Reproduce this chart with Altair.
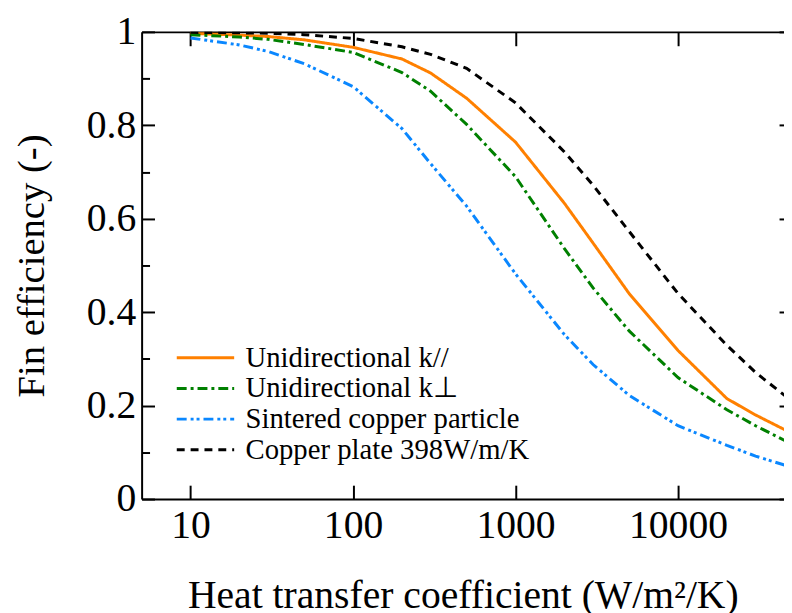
import altair as alt
import pandas as pd

# Heat transfer coefficient (W/m^2/K)
h_values = [10, 20, 30, 50, 100, 200, 300, 500, 1000, 2000, 3000, 5000,
            10000, 20000, 30000, 50000]

# Fin efficiency (-) per series
k_parallel = [0.997, 0.993, 0.990, 0.983, 0.967, 0.942, 0.912, 0.858, 0.764,
              0.633, 0.548, 0.440, 0.318, 0.215, 0.180, 0.141]
k_perpendicular = [0.994, 0.989, 0.984, 0.973, 0.956, 0.913, 0.873, 0.802,
                   0.690, 0.536, 0.452, 0.360, 0.260, 0.191, 0.157, 0.118]
sintered = [0.987, 0.972, 0.958, 0.932, 0.883, 0.793, 0.718, 0.627, 0.482,
            0.352, 0.288, 0.222, 0.157, 0.115, 0.092, 0.068]
copper_plate = [0.999, 0.998, 0.997, 0.994, 0.986, 0.968, 0.952, 0.922, 0.848,
                0.743, 0.672, 0.573, 0.440, 0.329, 0.271, 0.210]

series_names = ["Unidirectional k//", "Unidirectional k\u22a5",
                "Sintered copper particle", "Copper plate 398W/m/K"]
series_values = [k_parallel, k_perpendicular, sintered, copper_plate]
series_colors = ["#ff8000", "#008000", "#0a87ff", "#000000"]
series_dashes = [[1, 0], [10, 4, 3, 4], [10, 4, 3, 3, 3, 4], [8, 6]]

x_major = [10, 100, 1000, 10000]
y_major = [0, 0.2, 0.4, 0.6, 0.8, 1.0]
y_minor = [0.1, 0.3, 0.5, 0.7, 0.9]

rows = []
for name, vals in zip(series_names, series_values):
    for hv, v in zip(h_values, vals):
        rows.append({"h": hv, "eta": v, "series": name})
df = pd.DataFrame(rows)

FONT = "Liberation Serif"
xscale = alt.Scale(type="log", domain=[5, 44900], nice=False)
yscale = alt.Scale(domain=[0, 1], nice=False)

legend = alt.Legend(
    title=None, orient="none", legendX=34, legendY=314,
    symbolType="stroke", symbolSize=3364, symbolStrokeWidth=3,
    labelFont=FONT, labelFontSize=29, labelColor="black",
    labelOffset=10, rowPadding=0, clipHeight=30.5, padding=0, labelLimit=500,
)

base = alt.Chart(df)

lines = base.mark_line(strokeWidth=3, clip=True).encode(
    x=alt.X("h:Q", scale=xscale, axis=alt.Axis(
        orient="bottom", values=x_major, format="d",
        title="Heat transfer coefficient (W/m\u00b2/K)",
        offset=-14, tickSize=14, tickWidth=2, tickColor="black",
        domain=False, grid=False, labelPadding=7, titlePadding=31,
        labelFont=FONT, labelFontSize=40, labelColor="black",
        titleFont=FONT, titleFontSize=40, titleFontWeight="normal",
        titleColor="black")),
    y=alt.Y("eta:Q", scale=yscale, axis=alt.Axis(
        orient="left", values=y_major, format="~g",
        title="Fin efficiency (-)",
        offset=-13, tickSize=13, tickWidth=2, tickColor="black",
        domain=False, grid=False, labelPadding=6, titlePadding=35,
        labelFont=FONT, labelFontSize=40, labelColor="black",
        titleFont=FONT, titleFontSize=39, titleFontWeight="normal",
        titleColor="black")),
    color=alt.Color("series:N", scale=alt.Scale(domain=series_names,
                                                range=series_colors),
                    legend=legend),
    strokeDash=alt.StrokeDash("series:N",
                              scale=alt.Scale(domain=series_names,
                                              range=series_dashes),
                              legend=legend),
    detail="series:N",
)

ghost = base.mark_line(opacity=0, strokeWidth=0)

# top inward ticks + left minor inward ticks
layer2 = ghost.encode(
    x=alt.X("h:Q", scale=xscale, axis=alt.Axis(
        orient="top", values=x_major, offset=-14, tickSize=14, tickWidth=2,
        tickColor="black", labels=False, domain=False, grid=False, title=None)),
    y=alt.Y("eta:Q", scale=yscale, axis=alt.Axis(
        orient="left", values=y_minor, offset=-8, tickSize=8, tickWidth=2,
        tickColor="black", labels=False, domain=False, grid=False, title=None)),
    detail="series:N",
)

# bottom frame line + right inward ticks
layer3 = ghost.encode(
    x=alt.X("h:Q", scale=xscale, axis=alt.Axis(
        orient="bottom", values=x_major, ticks=False, labels=False,
        domain=True, domainWidth=2, domainColor="black", grid=False,
        title=None)),
    y=alt.Y("eta:Q", scale=yscale, axis=alt.Axis(
        orient="right", values=y_major, offset=-5, tickSize=5, tickWidth=2,
        tickColor="black", labels=False, domain=False, grid=False, title=None)),
    detail="series:N",
)

# top frame line + left frame line
layer4 = ghost.encode(
    x=alt.X("h:Q", scale=xscale, axis=alt.Axis(
        orient="top", values=x_major, ticks=False, labels=False,
        domain=True, domainWidth=2, domainColor="black", grid=False,
        title=None)),
    y=alt.Y("eta:Q", scale=yscale, axis=alt.Axis(
        orient="left", values=y_major, ticks=False, labels=False,
        domain=True, domainWidth=2, domainColor="black", grid=False,
        title=None)),
    detail="series:N",
)

chart = alt.layer(lines, layer2, layer3, layer4).resolve_axis(
    x="independent", y="independent"
).properties(
    width=649, height=472,
    autosize=alt.AutoSizeParams(type="none"),
    padding={"left": 135, "top": 21, "right": 0, "bottom": 112},
    background="white",
).configure_view(stroke=None)

chart.save("out.html", embed_options={"renderer": "svg", "actions": False})
